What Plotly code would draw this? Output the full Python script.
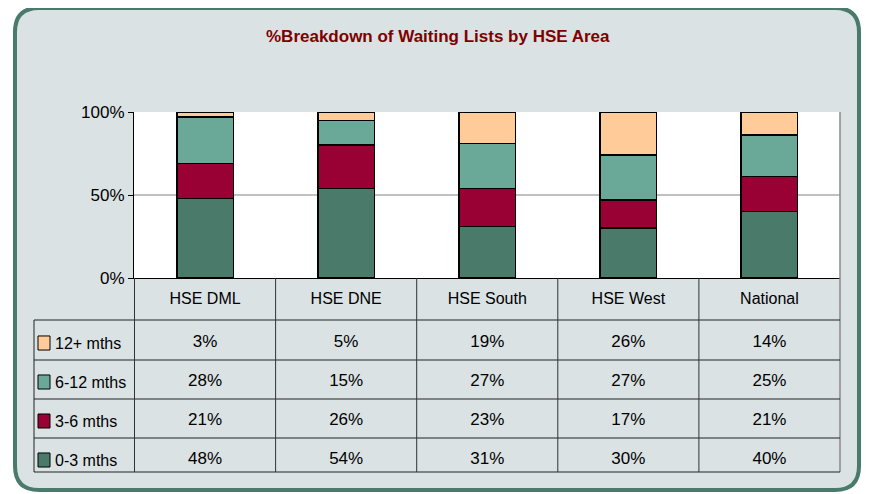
import plotly.graph_objects as go

W, H = 871, 494
OFF = 8  # page body margin compensation

categories = ["HSE DML", "HSE DNE", "HSE South", "HSE West", "National"]
series_names = ["0-3 mths", "3-6 mths", "6-12 mths", "12+ mths"]
m0_3 = [48, 54, 31, 30, 40]
m3_6 = [21, 26, 23, 17, 21]
m6_12 = [28, 15, 27, 27, 25]
m12p = [3, 5, 19, 26, 14]
colors = ["#4a7a6a", "#990033", "#6aa898", "#ffcc99"]
y_ticks = [0, 0.5, 1.0]
title_text = "%Breakdown of Waiting Lists by HSE Area"

FONT = "Liberation Sans, Arial, sans-serif"
BG = "#dae2e4"


def px(x):
    return (x - OFF) / W


def py(y):
    return 1 - (y - OFF) / H


series_vals = [m0_3, m3_6, m6_12, m12p]

fig = go.Figure()

# Stacked bars
for name, vals, col in zip(series_names, series_vals, colors):
    fig.add_trace(go.Bar(
        x=categories, y=[v / 100 for v in vals], name=name,
        marker=dict(color=col, line=dict(color="black", width=1.5)),
        xaxis="x", yaxis="y", showlegend=False,
    ))

# Data table values
tx, ty, tt = [], [], []
for name, vals in zip(series_names, series_vals):
    for c, v in zip(categories, vals):
        tx.append(c)
        ty.append(name)
        tt.append(f"{v}%")
fig.add_trace(go.Scatter(
    x=tx, y=ty, text=tt, mode="text", xaxis="x2", yaxis="y2",
    textfont=dict(family=FONT, size=17, color="black"),
    textposition="middle center", showlegend=False, cliponaxis=False,
    hoverinfo="skip",
))

shapes = []
# Rounded frame
L, T, R, B, r = 15, 8, 859, 490, 24
path = (f"M {px(L + r)},{py(T)} L {px(R - r)},{py(T)} Q {px(R)},{py(T)} {px(R)},{py(T + r)} "
        f"L {px(R)},{py(B - r)} Q {px(R)},{py(B)} {px(R - r)},{py(B)} "
        f"L {px(L + r)},{py(B)} Q {px(L)},{py(B)} {px(L)},{py(B - r)} "
        f"L {px(L)},{py(T + r)} Q {px(L)},{py(T)} {px(L + r)},{py(T)} Z")
shapes.append(dict(type="path", path=path, xref="paper", yref="paper",
                   fillcolor=BG, line=dict(color="#4a7a6a", width=4), layer="below"))
# White plot area
shapes.append(dict(type="rect", xref="x domain", yref="y domain", x0=0, x1=1, y0=0, y1=1,
                   fillcolor="white", line=dict(width=0), layer="below"))
# Right grey edge of plot/table
shapes.append(dict(type="line", xref="paper", yref="paper", x0=px(840), x1=px(840),
                   y0=py(112), y1=py(472), line=dict(color="#8a8a8a", width=1.5)))
# Table horizontal lines
for yy in [320, 360, 399, 438, 472]:
    shapes.append(dict(type="line", xref="paper", yref="paper", x0=px(34), x1=px(840),
                       y0=py(yy), y1=py(yy), line=dict(color="#222222", width=1)))
# Table vertical lines
shapes.append(dict(type="line", xref="paper", yref="paper", x0=px(34), x1=px(34),
                   y0=py(320), y1=py(472), line=dict(color="#222222", width=1)))
for xb in [-0.5, 0.5, 1.5, 2.5, 3.5]:
    shapes.append(dict(type="line", xref="x", yref="paper", x0=xb, x1=xb,
                       y0=py(278), y1=py(472), line=dict(color="#333333", width=1)))
# Legend keys
annotations = []
for i, (name, col) in enumerate(zip(series_names, colors)):
    shapes.append(dict(type="rect", xref="paper", yref="y2", x0=px(38), x1=px(50),
                       y0=i - 0.18, y1=i + 0.18,
                       fillcolor=col, line=dict(color="black", width=1)))
    annotations.append(dict(xref="paper", yref="y2", x=px(53), y=name, text=name,
                            xanchor="left", yanchor="middle", showarrow=False,
                            font=dict(family=FONT, size=16, color="black")))

annotations.append(dict(xref="paper", yref="paper", x=px(438), y=py(37), text=f"<b>{title_text}</b>",
                        xanchor="center", yanchor="middle", showarrow=False,
                        font=dict(family=FONT, size=17, color="#800000")))

fig.update_layout(
    width=W, height=H, margin=dict(l=0, r=0, t=0, b=0),
    template="none",
    paper_bgcolor="white", plot_bgcolor="rgba(0,0,0,0)",
    barmode="stack", bargap=0.6,
    font=dict(family=FONT, size=16, color="black"),
    shapes=shapes, annotations=annotations,
    xaxis=dict(domain=[px(134), px(840)], type="category", categoryorder="array",
               categoryarray=categories, anchor="y", showline=True, linecolor="black",
               linewidth=1, ticks="outside", ticklen=6, tickcolor="rgba(0,0,0,0)",
               showgrid=False, automargin=False, tickfont=dict(size=16)),
    yaxis=dict(domain=[py(278), py(112)], range=[0, 1], tickvals=y_ticks, tickformat=".0%",
               showline=True, linecolor="black", linewidth=1, ticks="outside", ticklen=5,
               tickcolor="black", showgrid=True, gridcolor="#c0c0c0", gridwidth=2,
               zeroline=False, automargin=False, tickfont=dict(size=17)),
    xaxis2=dict(domain=[px(134), px(840)], matches="x", anchor="y2", type="category",
                showticklabels=False, showgrid=False, showline=False, zeroline=False,
                automargin=False),
    yaxis2=dict(domain=[py(479.5), py(323.5)], type="category", categoryorder="array",
                categoryarray=series_names, range=[-0.5, 3.5], anchor="x2",
                showticklabels=False, showgrid=False, showline=False, zeroline=False,
                automargin=False),
)

fig.write_html("out.html")
